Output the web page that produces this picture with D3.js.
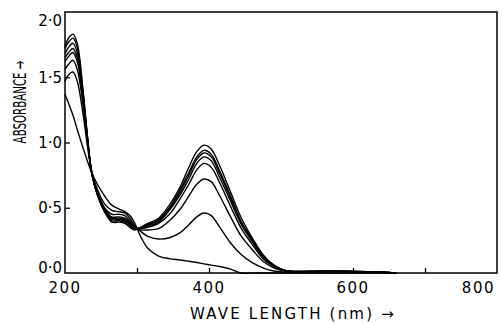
<!DOCTYPE html>
<html>
<head>
<meta charset="utf-8">
<script src="https://cdn.jsdelivr.net/npm/d3@7"></script>
<style>
  body { margin: 0; background: #fff; }
  text { font-family: "DejaVu Sans", sans-serif; fill: #000; }
</style>
</head>
<body>
<div id="chart"></div>
<script>
const [WIDTH, HEIGHT] = [502, 323]
const MARGIN = { left: 65, right: 5, top: 12, bottom: 50 }

// wavelengths (nm) shared by all spectra
const wavelengths = [200, 205, 211, 217, 225, 231, 237, 245, 255, 265, 275, 283, 290, 297, 305, 315, 330, 345, 360, 372, 383, 393, 403, 415, 430, 445, 460, 475, 490, 505, 520, 560, 620, 660]

// spectrum without the 395 nm band
const spec0 = [1.37, 1.30, 1.21, 1.10, 0.96, 0.86, 0.77, 0.68, 0.59, 0.52, 0.49, 0.47, 0.44, 0.38, 0.28, 0.19, 0.13, 0.11, 0.10, 0.09, 0.08, 0.07, 0.06, 0.05, 0.03, 0.00, 0.00, 0.00, 0.00, 0.00, 0.00, 0.00, 0.00, 0.00]
// spectra with growing 395 nm band
const spec1 = [1.47, 1.52, 1.54, 1.47, 1.22, 0.98, 0.78, 0.64, 0.53, 0.48, 0.47, 0.46, 0.42, 0.36, 0.32, 0.28, 0.26, 0.27, 0.31, 0.37, 0.43, 0.46, 0.44, 0.35, 0.23, 0.14, 0.08, 0.04, 0.015, 0.005, 0.008, 0.010, 0.008, 0.00]
const spec2 = [1.56, 1.60, 1.63, 1.56, 1.29, 1.02, 0.78, 0.62, 0.50, 0.45, 0.45, 0.44, 0.40, 0.35, 0.33, 0.33, 0.34, 0.40, 0.49, 0.59, 0.68, 0.72, 0.70, 0.59, 0.43, 0.28, 0.18, 0.09, 0.04, 0.015, 0.010, 0.012, 0.010, 0.00]
const spec3 = [1.62, 1.66, 1.69, 1.62, 1.33, 1.03, 0.77, 0.61, 0.49, 0.43, 0.43, 0.42, 0.39, 0.35, 0.34, 0.35, 0.38, 0.45, 0.57, 0.68, 0.79, 0.84, 0.81, 0.69, 0.51, 0.34, 0.22, 0.11, 0.05, 0.015, 0.010, 0.012, 0.010, 0.00]
const spec4 = [1.65, 1.69, 1.72, 1.65, 1.35, 1.04, 0.77, 0.61, 0.48, 0.42, 0.42, 0.41, 0.38, 0.35, 0.34, 0.36, 0.39, 0.48, 0.60, 0.72, 0.84, 0.89, 0.86, 0.73, 0.55, 0.37, 0.24, 0.12, 0.05, 0.020, 0.012, 0.014, 0.010, 0.00]
const spec5 = [1.68, 1.73, 1.76, 1.69, 1.37, 1.05, 0.77, 0.60, 0.48, 0.41, 0.41, 0.40, 0.37, 0.34, 0.34, 0.37, 0.40, 0.49, 0.62, 0.75, 0.87, 0.92, 0.89, 0.76, 0.57, 0.38, 0.25, 0.13, 0.055, 0.020, 0.012, 0.014, 0.010, 0.00]
const spec6 = [1.72, 1.77, 1.80, 1.73, 1.39, 1.05, 0.77, 0.60, 0.47, 0.40, 0.40, 0.39, 0.36, 0.34, 0.35, 0.37, 0.41, 0.50, 0.64, 0.77, 0.89, 0.94, 0.91, 0.78, 0.59, 0.39, 0.26, 0.13, 0.06, 0.020, 0.012, 0.015, 0.010, 0.00]
const spec7 = [1.74, 1.80, 1.83, 1.76, 1.40, 1.06, 0.77, 0.60, 0.47, 0.39, 0.39, 0.38, 0.35, 0.33, 0.35, 0.38, 0.42, 0.52, 0.66, 0.81, 0.93, 0.98, 0.95, 0.82, 0.62, 0.42, 0.27, 0.14, 0.06, 0.020, 0.012, 0.015, 0.010, 0.00]
const spectra = [spec0, spec1, spec2, spec3, spec4, spec5, spec6, spec7]

const xTicks = [300, 400, 500, 600, 700]
const xLabels = [200, 400, 600, 800]
const yTicks = [0.5, 1.0, 1.5]
const yLabels = [0, 0.5, 1.0, 1.5, 2.0]

const svg = d3.select('#chart').append('svg')
    .attr('width', WIDTH)
    .attr('height', HEIGHT)

const x = d3.scaleLinear([200, 800], [MARGIN.left, WIDTH - MARGIN.right])
const y = d3.scaleLinear([0, 2], [HEIGHT - MARGIN.bottom, MARGIN.top])

// inward ticks
svg.append('g')
    .attr('transform', `translate(0,${y(0)})`)
    .call(d3.axisTop(x).tickValues(xTicks).tickSize(5).tickFormat(''))
    .call(g => g.select('.domain').remove())
    .call(g => g.selectAll('.tick line').attr('stroke-width', 1.3))

svg.append('g')
    .attr('transform', `translate(${x(200)},0)`)
    .call(d3.axisRight(y).tickValues(yTicks).tickSize(5).tickFormat(''))
    .call(g => g.select('.domain').remove())
    .call(g => g.selectAll('.tick line').attr('stroke-width', 1.3))

// frame
svg.append('rect')
    .attr('x', x(200)).attr('y', y(2))
    .attr('width', x(800) - x(200)).attr('height', y(0) - y(2))
    .attr('fill', 'none').attr('stroke', '#000').attr('stroke-width', 1.5)

// tick labels
const fmt = v => d3.format('.1f')(v).replace('.', '\u00b7')
svg.append('g').selectAll('text')
    .data(yLabels)
    .join('text')
    .attr('x', x(200) - 3)
    .attr('y', d => Math.min(Math.max(y(d), y(2) + 9), y(0) - 5))
    .attr('dy', '0.36em')
    .attr('text-anchor', 'end')
    .attr('font-size', 15)
    .text(fmt)

svg.append('g').selectAll('text')
    .data(xLabels)
    .join('text')
    .attr('x', d => d === 800 ? x(d) - 2 : x(d))
    .attr('y', y(0) + 20)
    .attr('text-anchor', d => d === 800 ? 'end' : 'middle')
    .attr('font-size', 15)
    .attr('letter-spacing', 1.5)
    .text(d => d)

// axis titles
svg.append('text')
    .attr('x', 293)
    .attr('y', 319)
    .attr('text-anchor', 'middle')
    .attr('font-size', 15)
    .attr('letter-spacing', 2.2)
    .text('WAVE  LENGTH (nm) \u2192')

// condensed lettering, squeezed along the text direction
svg.append('text')
    .attr('transform', 'translate(26,102) rotate(-90) scale(0.57,1)')
    .attr('text-anchor', 'middle')
    .attr('font-size', 18)
    .text('ABSORBANCE \u2192')

// spectra
const line = d3.line()
    .x((d, i) => x(wavelengths[i]))
    .y(d => y(d))
    .curve(d3.curveCatmullRom.alpha(0.5))

svg.append('g').selectAll('path')
    .data(spectra)
    .join('path')
    .attr('d', line)
    .attr('fill', 'none')
    .attr('stroke', '#000')
    .attr('stroke-width', 1.4)
</script>
</body>
</html>
